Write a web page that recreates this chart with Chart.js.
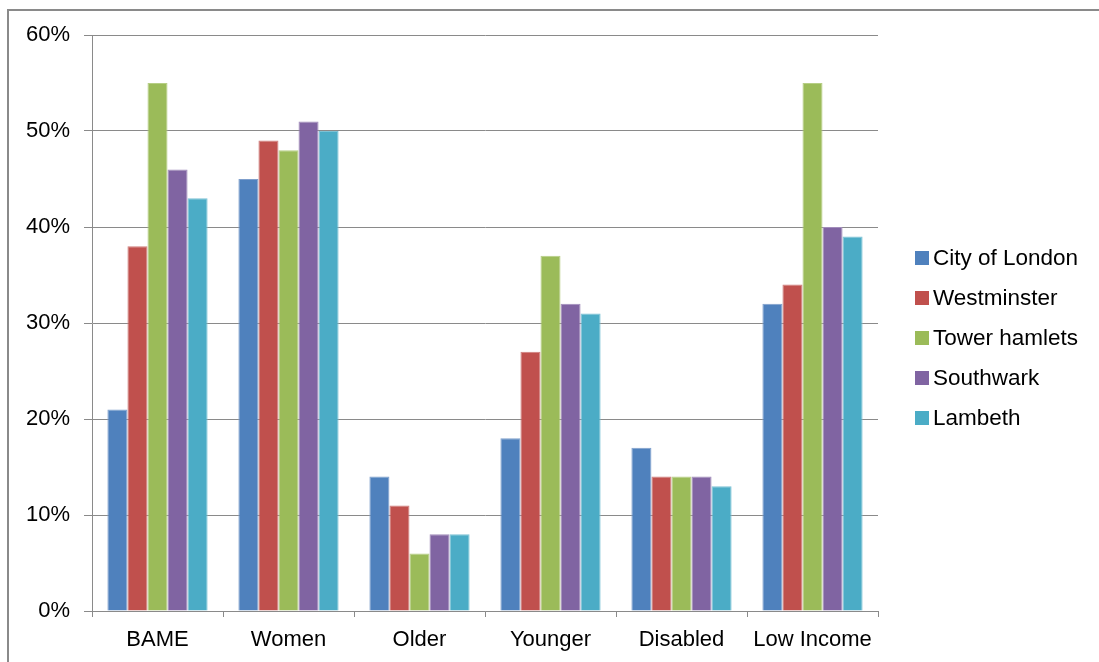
<!DOCTYPE html>
<html>
<head>
<meta charset="utf-8">
<title>Representation by borough</title>
<script src="https://cdn.jsdelivr.net/npm/chart.js@4"></script>
<style>
    html, body { margin: 0; padding: 0; background: #fff; }
    #wrap { position: relative; width: 1099px; height: 662px; overflow: hidden; }
    #frame {
        position: absolute; left: 7px; top: 9px; right: -10px; bottom: -10px;
        border-top: 2px solid #8a8a8a; border-left: 2px solid #8a8a8a;
        pointer-events: none;
    }
    #chart { position: absolute; left: 0; top: 0; }
    #legend {
        position: absolute; left: 915px; top: 246px; margin: 0; padding: 0;
        list-style: none; font-family: "Liberation Sans", Arial, sans-serif;
        font-size: 22.5px; color: #000;
    }
    #legend li { display: flex; align-items: center; height: 24px; margin-bottom: 16px; white-space: nowrap; }
    #legend .box { width: 14px; height: 14px; margin-right: 4px; }
</style>
</head>
<body>
<div id="wrap">
    <canvas id="chart" width="1099" height="662"></canvas>
    <div id="frame"></div>
    <ul id="legend"></ul>
</div>
<script>
// Chart data
const categories = ['BAME', 'Women', 'Older', 'Younger', 'Disabled', 'Low Income'];
const cityOfLondon = [21, 45, 14, 18, 17, 32];
const westminster = [38, 49, 11, 27, 14, 34];
const towerHamlets = [55, 48, 6, 37, 14, 55];
const southwark = [46, 51, 8, 32, 14, 40];
const lambeth = [43, 50, 8, 31, 13, 39];
const yTicks = [0, 10, 20, 30, 40, 50, 60];

const FONT = '"Liberation Sans", Arial, sans-serif';
const GRID = '#8a8a8a';

function series(label, data, color, edge) {
    return {
        label: label,
        data: data,
        backgroundColor: color,
        borderColor: edge,
        borderWidth: 1,
        borderSkipped: 'bottom'
    };
}

const chart = new Chart(document.getElementById('chart'), {
    type: 'bar',
    data: {
        labels: categories,
        datasets: [
            series('City of London', cityOfLondon, '#4f81bd', '#7f9fcc'),
            series('Westminster', westminster, '#c0504d', '#cf7d7b'),
            series('Tower hamlets', towerHamlets, '#9bbb59', '#b6ce85'),
            series('Southwark', southwark, '#8064a2', '#a18cba'),
            series('Lambeth', lambeth, '#4bacc6', '#7cc2d5')
        ]
    },
    options: {
        responsive: false,
        animation: false,
        layout: { padding: { top: 35, right: 221, bottom: 0, left: 0 } },
        datasets: { bar: { categoryPercentage: 0.765, barPercentage: 1.0 } },
        plugins: {
            legend: { display: false },
            tooltip: { enabled: false }
        },
        scales: {
            x: {
                offset: true,
                grid: {
                    offset: true,
                    drawOnChartArea: false,
                    drawTicks: true,
                    tickLength: 6,
                    color: GRID
                },
                border: { color: GRID, width: 1 },
                ticks: {
                    padding: 10,
                    color: '#000',
                    font: { family: FONT, size: 22 }
                },
                afterFit: scale => { scale.height = 51; }
            },
            y: {
                min: 0,
                max: 60,
                afterBuildTicks: scale => {
                    scale.ticks = yTicks.map(v => ({ value: v }));
                },
                grid: {
                    color: GRID,
                    tickLength: 8,
                    lineWidth: 1
                },
                border: { color: GRID, width: 1 },
                ticks: {
                    padding: 14,
                    color: '#000',
                    font: { family: FONT, size: 22 },
                    callback: v => v + '%'
                },
                afterFit: scale => { scale.width = 92; }
            }
        }
    }
});

// HTML legend built from the chart's own legend items
const legendList = document.getElementById('legend');
chart.options.plugins.legend.labels.generateLabels(chart).forEach(item => {
    const li = document.createElement('li');
    const box = document.createElement('span');
    box.className = 'box';
    box.style.background = item.fillStyle;
    const text = document.createElement('span');
    text.textContent = item.text;
    li.appendChild(box);
    li.appendChild(text);
    legendList.appendChild(li);
});
</script>
</body>
</html>
